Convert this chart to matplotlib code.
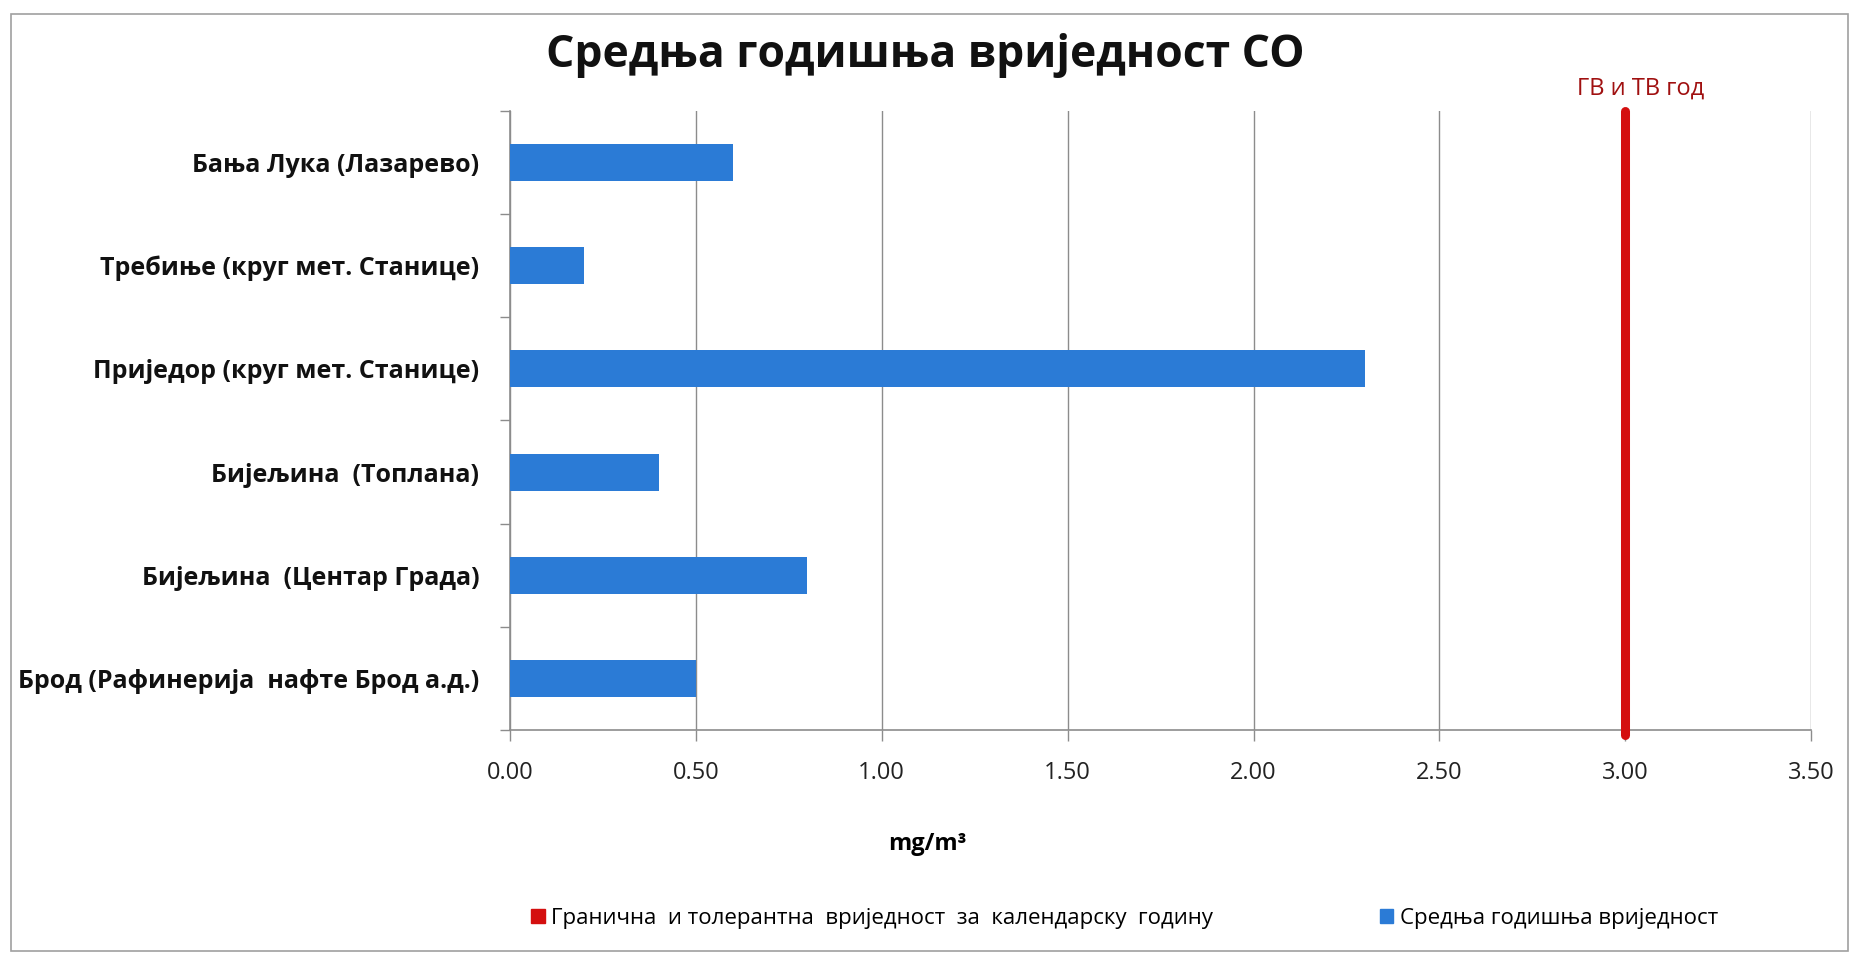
import matplotlib
matplotlib.use("Agg")
import matplotlib.pyplot as plt
from matplotlib.patches import Patch, Rectangle

# data
stations = [
    "Бања Лука (Лазарево)",
    "Требиње (круг мет. Станице)",
    "Приједор (круг мет. Станице)",
    "Бијељина  (Топлана)",
    "Бијељина  (Центар Града)",
    "Брод (Рафинерија  нафте Брод а.д.)",
]
mean_values = [0.6, 0.2, 2.3, 0.4, 0.8, 0.5]
limit_value = 3.0
x_ticks = [0.0, 0.5, 1.0, 1.5, 2.0, 2.5, 3.0, 3.5]

title = "Средња годишња вриједност CO"
limit_label = "ГВ и ТВ год"
x_label = "mg/m³"
legend_labels = ["Гранична  и толерантна  вриједност  за  календарску  годину",
                 "Средња годишња вриједност"]

BLUE = "#2B7BD6"
RED = "#D40F0F"
GRID = "#8C8C8C"

plt.rcParams['font.family'] = ['Open Sans', 'DejaVu Sans']

fig = plt.figure(figsize=(18.59, 9.55), dpi=100)
fig.patch.set_facecolor("white")
ax = fig.add_axes([0.2743, 0.2356, 0.7000, 0.6482])

n = len(stations)
ypos = list(range(n))
ax.barh(ypos, mean_values, height=0.36, color=BLUE, zorder=3)

ax.set_xlim(0, 3.5)
ax.set_ylim(n - 0.5, -0.5)

ax.set_xticks(x_ticks)
ax.set_xticklabels([f"{v:.2f}" for v in x_ticks], fontsize=17, color="#222222")
ax.tick_params(axis="x", length=8, width=1, color=GRID, pad=14)

ax.set_yticks(ypos)
ax.set_yticklabels(stations, fontsize=18, fontweight="bold", color="#111111")
ax.tick_params(axis="y", which="major", length=0, pad=22)
ax.set_yticks([i - 0.5 for i in range(n + 1)], minor=True)
ax.tick_params(axis="y", which="minor", length=7, width=1, color=GRID)

ax.grid(axis="x", color=GRID, linewidth=1.0, zorder=0)
for side in ["top", "right"]:
    ax.spines[side].set_visible(False)
for side in ["left", "bottom"]:
    ax.spines[side].set_color(GRID)
    ax.spines[side].set_linewidth(1.2)

# limit line
ax.plot([limit_value, limit_value], [n - 0.45, -0.5], color=RED, linewidth=6.5,
        solid_capstyle="round", zorder=4, clip_on=False)
ax.text(limit_value + 0.04, -0.6, limit_label, color="#A01010", fontsize=17,
        ha="center", va="bottom")

ax.set_xlabel(x_label, fontsize=17, fontweight="bold")
ax.xaxis.set_label_coords(0.321, -0.165)

fig.text(0.4975, 0.942, title, fontsize=32, fontweight="bold",
         ha="center", va="center", color="#111111")

handles = [Patch(facecolor=RED, edgecolor=RED), Patch(facecolor=BLUE, edgecolor=BLUE)]
fig.legend(handles, legend_labels, loc="center", bbox_to_anchor=(0.605, 0.038),
           ncol=2, frameon=False, fontsize=16, handlelength=0.6, handleheight=0.6,
           handletextpad=0.3, columnspacing=7.5)

fig.patches.append(Rectangle((0.006, 0.004), 0.988, 0.981, transform=fig.transFigure,
                             fill=False, edgecolor="#A0A0A0", linewidth=1.2))

fig.savefig("out.png", dpi=100)
